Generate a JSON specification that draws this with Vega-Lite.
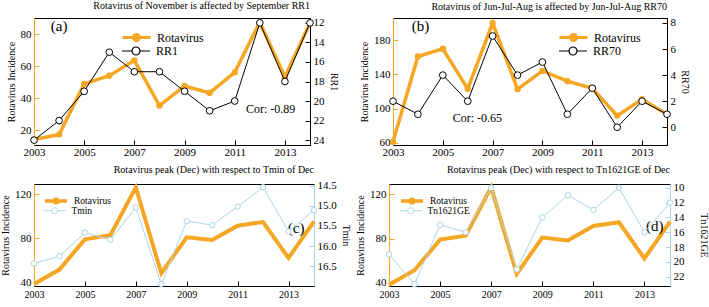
{
  "$schema": "https://vega.github.io/schema/vega-lite/v6.json",
  "padding": {"left": 0, "top": 0, "right": 0, "bottom": 0},
  "background": "white",
  "datasets": {
    "a": [
      {"year": 2003, "rota": 14.2, "rr1": 24},
      {"year": 2004, "rota": 17.3, "rr1": 22},
      {"year": 2005, "rota": 48.9, "rr1": 19},
      {"year": 2006, "rota": 54.0, "rr1": 15},
      {"year": 2007, "rota": 63.6, "rr1": 17},
      {"year": 2008, "rota": 35.4, "rr1": 17},
      {"year": 2009, "rota": 47.6, "rr1": 19},
      {"year": 2010, "rota": 43.3, "rr1": 21},
      {"year": 2011, "rota": 56.1, "rr1": 20},
      {"year": 2012, "rota": 87.3, "rr1": 12},
      {"year": 2013, "rota": 53.2, "rr1": 18},
      {"year": 2014, "rota": 86.9, "rr1": 12}
    ],
    "b": [
      {"year": 2003, "rota": 61, "rr70": 2},
      {"year": 2004, "rota": 160.9, "rr70": 1},
      {"year": 2005, "rota": 169.9, "rr70": 4},
      {"year": 2006, "rota": 123, "rr70": 2},
      {"year": 2007, "rota": 200, "rr70": 7},
      {"year": 2008, "rota": 122.6, "rr70": 4},
      {"year": 2009, "rota": 144, "rr70": 5},
      {"year": 2010, "rota": 132, "rr70": 1},
      {"year": 2011, "rota": 123.7, "rr70": 3},
      {"year": 2012, "rota": 91.7, "rr70": 0},
      {"year": 2013, "rota": 110.8, "rr70": 2},
      {"year": 2014, "rota": 93.2, "rr70": 1}
    ],
    "cd": [
      {"year": 2003, "rota": 38.5, "tmin": 16.43, "tn": 19},
      {"year": 2004, "rota": 51.5, "tmin": 16.25, "tn": 23},
      {"year": 2005, "rota": 79, "tmin": 15.67, "tn": 15},
      {"year": 2006, "rota": 82.6, "tmin": 15.84, "tn": 16},
      {"year": 2007, "rota": 126, "tmin": 15.04, "tn": 10},
      {"year": 2008, "rota": 48.2, "tmin": 16.94, "tn": 21},
      {"year": 2009, "rota": 80.8, "tmin": 15.38, "tn": 14},
      {"year": 2010, "rota": 78.3, "tmin": 15.48, "tn": 11},
      {"year": 2011, "rota": 91.3, "tmin": 15.02, "tn": 13},
      {"year": 2012, "rota": 94.6, "tmin": 14.54, "tn": 10},
      {"year": 2013, "rota": 62, "tmin": 15.64, "tn": 16},
      {"year": 2014, "rota": 95.2, "tmin": 15.11, "tn": 12}
    ]
  },
  "spacing": 6,
  "resolve": {"scale": {"color": "independent"}, "legend": {"color": "independent"}},
  "vconcat": [
    {
      "spacing": 20,
      "resolve": {"scale": {"color": "independent"}, "legend": {"color": "independent"}},
      "hconcat": [
        {
          "width": 276, "height": 127,
          "title": {"text": "Rotavirus of November is affected by September RR1"},
          "layer": [
            {
              "layer": [
                {
                  "data": {"name": "a"},
                  "mark": {"type": "line", "strokeWidth": 3.5, "point": {"filled": true, "size": 40}},
                  "encoding": {
                    "x": {"field": "year", "type": "quantitative", "scale": {"domain": [2003, 2014], "nice": false, "zero": false},
                      "axis": {"title": null, "values": [2003,2004,2005,2006,2007,2008,2009,2010,2011,2012,2013,2014], "format": "d", "labelOverlap": false, "labelPadding": 6, "labelExpr": "datum.value % 2 == 1 ? datum.label : ''"}},
                    "y": {"field": "rota", "type": "quantitative", "scale": {"domain": [10.8, 90], "nice": false, "zero": false},
                      "axis": {"title": "Rotavirus Incidence", "values": [20, 40, 60, 80], "domainColor": "#f5a623", "tickColor": "#f5a623"}},
                    "color": {"datum": "Rotavirus", "type": "nominal",
                      "scale": {"domain": ["Rotavirus"], "range": ["#f5a623"]},
                      "legend": {"legendX": 96, "legendY": 13, "symbolStrokeWidth": 3}}
                  }
                },
                {
                  "data": {"values": [{"label": "(a)"}]},
                  "mark": {"type": "text", "fontSize": 15, "align": "center", "baseline": "middle"},
                  "encoding": {"x": {"datum": 2004}, "y": {"datum": 85}, "text": {"field": "label"}}
                },
                {
                  "data": {"values": [{"label": "Cor: -0.89"}]},
                  "mark": {"type": "text", "fontSize": 12, "align": "left", "baseline": "middle"},
                  "encoding": {"x": {"datum": 2011.45}, "y": {"datum": 33.5}, "text": {"field": "label"}}
                }
              ]
            },
            {
              "data": {"name": "a"},
              "mark": {"type": "line", "strokeWidth": 1, "point": {"filled": false, "fill": "white", "size": 45, "strokeWidth": 1}},
              "encoding": {
                "x": {"field": "year", "type": "quantitative"},
                "y": {"field": "rr1", "type": "quantitative", "scale": {"domain": [11.5, 24.5], "reverse": true, "nice": false, "zero": false},
                  "axis": {"title": "RR1", "orient": "right", "values": [12, 14, 16, 18, 20, 22, 24]}},
                "color": {"datum": "RR1", "type": "nominal", "scale": {"domain": ["RR1"], "range": ["black"]},
                  "legend": {"legendX": 96, "legendY": 27, "symbolStrokeWidth": 1.2,
                    "symbolType": "M-2.8,0H-0.8M0.8,0H2.8M-0.8,0A0.8,0.8,0,1,0,0.8,0A0.8,0.8,0,1,0,-0.8,0"}}
              }
            }
          ],
          "resolve": {"scale": {"y": "independent", "color": "independent"}, "legend": {"color": "independent"}}
        },
        {
          "width": 274, "height": 127,
          "title": {"text": "Rotavirus of Jun-Jul-Aug is affected by Jun-Jul-Aug RR70"},
          "layer": [
            {
              "layer": [
                {
                  "data": {"name": "b"},
                  "mark": {"type": "line", "strokeWidth": 3.5, "point": {"filled": true, "size": 40}},
                  "encoding": {
                    "x": {"field": "year", "type": "quantitative", "scale": {"domain": [2003, 2014], "nice": false, "zero": false},
                      "axis": {"title": null, "values": [2003,2004,2005,2006,2007,2008,2009,2010,2011,2012,2013,2014], "format": "d", "labelOverlap": false, "labelPadding": 6, "labelExpr": "datum.value % 2 == 1 ? datum.label : ''"}},
                    "y": {"field": "rota", "type": "quantitative", "scale": {"domain": [57.3, 205.9], "nice": false, "zero": false},
                      "axis": {"title": "Rotavirus Incidence", "values": [60, 80, 100, 120, 140, 160, 180, 200], "domainColor": "#f5a623", "tickColor": "#f5a623"}},
                    "color": {"datum": "Rotavirus", "type": "nominal",
                      "scale": {"domain": ["Rotavirus"], "range": ["#f5a623"]},
                      "legend": {"legendX": 174, "legendY": 13, "symbolStrokeWidth": 3}}
                  }
                },
                {
                  "data": {"values": [{"label": "(b)"}]},
                  "mark": {"type": "text", "fontSize": 15, "align": "center", "baseline": "middle"},
                  "encoding": {"x": {"datum": 2004.1}, "y": {"datum": 196.7}, "text": {"field": "label"}}
                },
                {
                  "data": {"values": [{"label": "Cor: -0.65"}]},
                  "mark": {"type": "text", "fontSize": 12, "align": "left", "baseline": "middle"},
                  "encoding": {"x": {"datum": 2005.4}, "y": {"datum": 89.3}, "text": {"field": "label"}}
                }
              ]
            },
            {
              "data": {"name": "b"},
              "mark": {"type": "line", "strokeWidth": 1, "point": {"filled": false, "fill": "white", "size": 45, "strokeWidth": 1}},
              "encoding": {
                "x": {"field": "year", "type": "quantitative"},
                "y": {"field": "rr70", "type": "quantitative", "scale": {"domain": [-1.36, 8.38], "nice": false, "zero": false},
                  "axis": {"title": "RR70", "orient": "right", "values": [0, 2, 4, 6, 8]}},
                "color": {"datum": "RR70", "type": "nominal", "scale": {"domain": ["RR70"], "range": ["black"]},
                  "legend": {"legendX": 174, "legendY": 27, "symbolStrokeWidth": 1.2,
                    "symbolType": "M-2.8,0H-0.8M0.8,0H2.8M-0.8,0A0.8,0.8,0,1,0,0.8,0A0.8,0.8,0,1,0,-0.8,0"}}
              }
            }
          ],
          "resolve": {"scale": {"y": "independent", "color": "independent"}, "legend": {"color": "independent"}}
        }
      ]
    },
    {
      "spacing": 4,
      "resolve": {"scale": {"color": "independent"}, "legend": {"color": "independent"}},
      "hconcat": [
        {
          "width": 280, "height": 102,
          "title": {"text": "Rotavirus peak (Dec) with respect to Tmin of Dec"},
          "layer": [
            {
              "layer": [
                {
                  "data": {"name": "cd"},
                  "mark": {"type": "line", "strokeWidth": 4},
                  "encoding": {
                    "x": {"field": "year", "type": "quantitative", "scale": {"domain": [2003, 2014], "nice": false, "zero": false},
                      "axis": {"title": null, "values": [2003,2004,2005,2006,2007,2008,2009,2010,2011,2012,2013,2014], "format": "d", "labelFontSize": 10, "labelOverlap": false}},
                    "y": {"field": "rota", "type": "quantitative", "scale": {"domain": [36.6, 129.1], "nice": false, "zero": false},
                      "axis": {"title": "Rotavirus Incidence", "values": [40, 60, 80, 100, 120], "domainColor": "#f5a623", "tickColor": "#f5a623"}},
                    "color": {"datum": "Rotavirus", "type": "nominal",
                      "scale": {"domain": ["Rotavirus"], "range": ["#f5a623"]},
                      "legend": {"legendX": 16, "legendY": 11, "labelFontSize": 9.5, "symbolSize": 64, "labelOffset": 12,
                        "symbolStrokeWidth": 3.5,
                        "symbolType": "M-2.75,0H2.75M-0.45,0A0.45,0.45,0,1,0,0.45,0A0.45,0.45,0,1,0,-0.45,0"}}
                  }
                },
                {
                  "data": {"values": [{"label": "(c)"}]},
                  "mark": {"type": "text", "fontSize": 15, "align": "center", "baseline": "middle"},
                  "encoding": {"x": {"datum": 2013.3}, "y": {"datum": 89.5}, "text": {"field": "label"}}
                }
              ]
            },
            {
              "data": {"name": "cd"},
              "mark": {"type": "line", "strokeWidth": 1, "point": {"filled": false, "fill": "white", "size": 30, "strokeWidth": 1}},
              "encoding": {
                "x": {"field": "year", "type": "quantitative"},
                "y": {"field": "tmin", "type": "quantitative", "scale": {"domain": [14.46, 16.99], "reverse": true, "nice": false, "zero": false},
                  "axis": {"title": "Tmin", "orient": "right", "values": [14.5, 15, 15.5, 16, 16.5], "format": ".1f", "domainColor": "#a9d6e6", "tickColor": "#a9d6e6"}},
                "color": {"datum": "Tmin", "type": "nominal", "scale": {"domain": ["Tmin"], "range": ["#a9d6e6"]},
                  "legend": {"legendX": 16, "legendY": 22, "labelFontSize": 9.5, "symbolSize": 64, "labelOffset": 12,
                    "symbolStrokeWidth": 1,
                    "symbolType": "M-2.75,0H-0.75M0.75,0H2.75M-0.75,0A0.75,0.75,0,1,0,0.75,0A0.75,0.75,0,1,0,-0.75,0"}}
              }
            }
          ],
          "resolve": {"scale": {"y": "independent", "color": "independent"}, "legend": {"color": "independent"}}
        },
        {
          "width": 281, "height": 102,
          "title": {"text": "Rotavirus peak (Dec) with respect to Tn1621GE of Dec"},
          "layer": [
            {
              "layer": [
                {
                  "data": {"name": "cd"},
                  "mark": {"type": "line", "strokeWidth": 4},
                  "encoding": {
                    "x": {"field": "year", "type": "quantitative", "scale": {"domain": [2003, 2014], "nice": false, "zero": false},
                      "axis": {"title": null, "values": [2003,2004,2005,2006,2007,2008,2009,2010,2011,2012,2013,2014], "format": "d", "labelFontSize": 10, "labelOverlap": false}},
                    "y": {"field": "rota", "type": "quantitative", "scale": {"domain": [37.3, 129], "nice": false, "zero": false},
                      "axis": {"title": "Rotavirus Incidence", "values": [40, 60, 80, 100, 120], "domainColor": "#f5a623", "tickColor": "#f5a623"}},
                    "color": {"datum": "Rotavirus", "type": "nominal",
                      "scale": {"domain": ["Rotavirus"], "range": ["#f5a623"]},
                      "legend": {"legendX": 17, "legendY": 11, "labelFontSize": 9.5, "symbolSize": 64, "labelOffset": 12,
                        "symbolStrokeWidth": 3.5,
                        "symbolType": "M-2.75,0H2.75M-0.45,0A0.45,0.45,0,1,0,0.45,0A0.45,0.45,0,1,0,-0.45,0"}}
                  }
                },
                {
                  "data": {"values": [{"label": "(d)"}]},
                  "mark": {"type": "text", "fontSize": 15, "align": "center", "baseline": "middle"},
                  "encoding": {"x": {"datum": 2013.4}, "y": {"datum": 91}, "text": {"field": "label"}}
                }
              ]
            },
            {
              "data": {"name": "cd"},
              "mark": {"type": "line", "strokeWidth": 1, "point": {"filled": false, "fill": "white", "size": 30, "strokeWidth": 1}},
              "encoding": {
                "x": {"field": "year", "type": "quantitative"},
                "y": {"field": "tn", "type": "quantitative", "scale": {"domain": [9.5, 23.25], "reverse": true, "nice": false, "zero": false},
                  "axis": {"title": "Tn1621GE", "orient": "right", "titlePadding": 14, "values": [10, 12, 14, 16, 18, 20, 22], "domainColor": "#a9d6e6", "tickColor": "#a9d6e6"}},
                "color": {"datum": "Tn1621GE", "type": "nominal", "scale": {"domain": ["Tn1621GE"], "range": ["#a9d6e6"]},
                  "legend": {"legendX": 17, "legendY": 22, "labelFontSize": 9.5, "symbolSize": 64, "labelOffset": 12,
                    "symbolStrokeWidth": 1,
                    "symbolType": "M-2.75,0H-0.75M0.75,0H2.75M-0.75,0A0.75,0.75,0,1,0,0.75,0A0.75,0.75,0,1,0,-0.75,0"}}
              }
            }
          ],
          "resolve": {"scale": {"y": "independent", "color": "independent"}, "legend": {"color": "independent"}}
        }
      ]
    }
  ],
  "config": {
    "font": "Liberation Serif",
    "view": {"stroke": "black", "strokeWidth": 1},
    "axis": {
      "labelFont": "Liberation Serif", "titleFont": "Liberation Serif",
      "labelFontSize": 11, "titleFontSize": 10, "titleFontWeight": "normal",
      "grid": false, "domainColor": "black", "tickColor": "black",
      "labelColor": "black", "titleColor": "black", "tickSize": -5, "labelPadding": 8,
      "labelOverlap": false, "labelFlush": false, "labelBound": false
    },
    "title": {"font": "Liberation Serif", "fontSize": 10, "fontWeight": "normal", "anchor": "end", "frame": "group", "offset": 4, "color": "black"},
    "text": {"font": "Liberation Serif", "color": "black"},
    "legend": {
      "orient": "none", "title": null,
      "labelFont": "Liberation Serif", "labelFontSize": 12, "labelColor": "black",
      "symbolType": "M-2.8,0H2.8M-0.6,0A0.6,0.6,0,1,0,0.6,0A0.6,0.6,0,1,0,-0.6,0",
      "symbolSize": 100, "labelOffset": 14, "rowPadding": 0,
      "symbolStrokeWidth": 1.5
    }
  }
}
